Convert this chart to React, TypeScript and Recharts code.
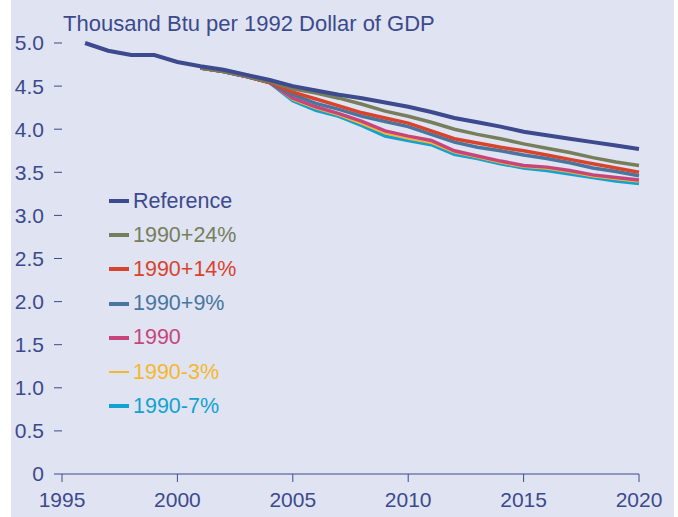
import React from 'react';
import { LineChart, Line, XAxis, YAxis, Legend } from 'recharts';

const years = [1996, 1997, 1998, 1999, 2000, 2001, 2002, 2003, 2004, 2005, 2006, 2007, 2008, 2009, 2010, 2011, 2012, 2013, 2014, 2015, 2016, 2017, 2018, 2019, 2020];

const reference = [5.0, 4.91, 4.86, 4.86, 4.78, 4.73, 4.69, 4.63, 4.57, 4.5, 4.45, 4.4, 4.36, 4.31, 4.26, 4.2, 4.13, 4.08, 4.03, 3.97, 3.93, 3.89, 3.85, 3.81, 3.77];
// the cases start in 2001
const plus24 = [4.71, 4.67, 4.61, 4.55, 4.47, 4.42, 4.36, 4.29, 4.21, 4.15, 4.08, 4.0, 3.94, 3.89, 3.83, 3.78, 3.73, 3.67, 3.62, 3.58];
const plus14 = [4.71, 4.67, 4.61, 4.54, 4.43, 4.35, 4.27, 4.19, 4.13, 4.07, 3.98, 3.89, 3.84, 3.79, 3.75, 3.7, 3.65, 3.6, 3.55, 3.5];
const plus9 = [4.71, 4.67, 4.61, 4.54, 4.4, 4.3, 4.23, 4.15, 4.09, 4.03, 3.94, 3.85, 3.79, 3.75, 3.7, 3.66, 3.61, 3.55, 3.51, 3.46];
const level1990 = [4.71, 4.67, 4.61, 4.54, 4.36, 4.26, 4.18, 4.09, 3.98, 3.92, 3.87, 3.75, 3.69, 3.63, 3.58, 3.56, 3.52, 3.47, 3.44, 3.41];
const minus3 = [4.71, 4.67, 4.61, 4.54, 4.34, 4.24, 4.16, 4.06, 3.95, 3.89, 3.84, 3.73, 3.67, 3.61, 3.56, 3.54, 3.5, 3.45, 3.42, 3.39];
const minus7 = [4.71, 4.67, 4.61, 4.54, 4.33, 4.22, 4.15, 4.04, 3.92, 3.87, 3.82, 3.71, 3.66, 3.6, 3.55, 3.52, 3.48, 3.44, 3.4, 3.37];

const xTicks = [1995, 2000, 2005, 2010, 2015, 2020];
const yTicks = [0, 0.5, 1, 1.5, 2, 2.5, 3, 3.5, 4, 4.5, 5];

const series = [
    { key: 'ref', name: 'Reference', color: '#3d4a8e', values: reference, width: 4 },
    { key: 'p24', name: '1990+24%', color: '#777e5c', values: plus24, width: 3.5 },
    { key: 'p14', name: '1990+14%', color: '#d9432c', values: plus14, width: 3.5 },
    { key: 'p9', name: '1990+9%', color: '#48769f', values: plus9, width: 3.5 },
    { key: 'b90', name: '1990', color: '#c8457c', values: level1990, width: 3.5 },
    { key: 'm3', name: '1990-3%', color: '#f6b82b', values: minus3, width: 2 },
    { key: 'm7', name: '1990-7%', color: '#11a2d2', values: minus7, width: 3.5 },
];

const offset = years.length - plus24.length;
const data = years.map((year, i) => {
    const row: any = { year };
    series.forEach(s => {
        const v = s.values.length === years.length ? s.values[i] : s.values[i - offset];
        row[s.key] = v === undefined ? null : v;
    });
    return row;
});

const ink = '#3c4a8c';
const font = '"Liberation Sans", Arial, sans-serif';

const LegendBox = () => (
    <div style={{ fontFamily: font, fontSize: 21.5 }}>
        {series.map(s => (
            <div key={s.key} style={{ display: 'flex', alignItems: 'center', height: 34.2 }}>
                <span style={{ display: 'inline-block', width: 20, height: s.width === 2 ? 2 : 4, background: s.color, marginRight: 4 }} />
                <span style={{ color: s.color }}>{s.name}</span>
            </div>
        ))}
    </div>
);

export default function App() {
    return (
        <div style={{ position: 'absolute', left: 0, top: 0, width: 678, height: 517, background: '#fff', overflow: 'hidden' }}>
            <div style={{ position: 'absolute', left: 11, top: 0, width: 663, height: 517, background: '#dfe3f2' }} />
            <div style={{ position: 'absolute', left: 63, top: 13, lineHeight: '22px', fontFamily: font, fontSize: 22, color: ink, whiteSpace: 'nowrap' }}>
                Thousand Btu per 1992 Dollar of GDP
            </div>
            <div style={{ position: 'absolute', left: 0, top: 0 }}>
                <LineChart width={678} height={517} data={data} margin={{ top: 43, right: 39, left: 0, bottom: 0 }}>
                    <XAxis
                        dataKey="year"
                        type="number"
                        domain={[1995, 2020]}
                        ticks={xTicks}
                        height={43}
                        stroke={ink}
                        tickSize={8}
                        tickMargin={10}
                        tick={{ fill: ink, fontSize: 21, fontFamily: font }}
                    />
                    <YAxis
                        type="number"
                        domain={[0, 5]}
                        ticks={yTicks}
                        width={62}
                        axisLine={false}
                        stroke={ink}
                        tickSize={8}
                        tickMargin={10}
                        tickFormatter={(v: number) => (v === 0 ? '0' : v.toFixed(1))}
                        tick={{ fill: ink, fontSize: 21, fontFamily: font }}
                    />
                    <Legend
                        layout="vertical"
                        align="center"
                        verticalAlign="middle"
                        content={() => <LegendBox />}
                        wrapperStyle={{ left: 109, top: 184, width: 'auto' }}
                    />
                    {[...series].reverse().map(s => (
                        <Line
                            key={s.key}
                            dataKey={s.key}
                            name={s.name}
                            stroke={s.color}
                            strokeWidth={s.width}
                            dot={false}
                            type="linear"
                            connectNulls={false}
                            isAnimationActive={false}
                        />
                    ))}
                </LineChart>
            </div>
        </div>
    );
}
